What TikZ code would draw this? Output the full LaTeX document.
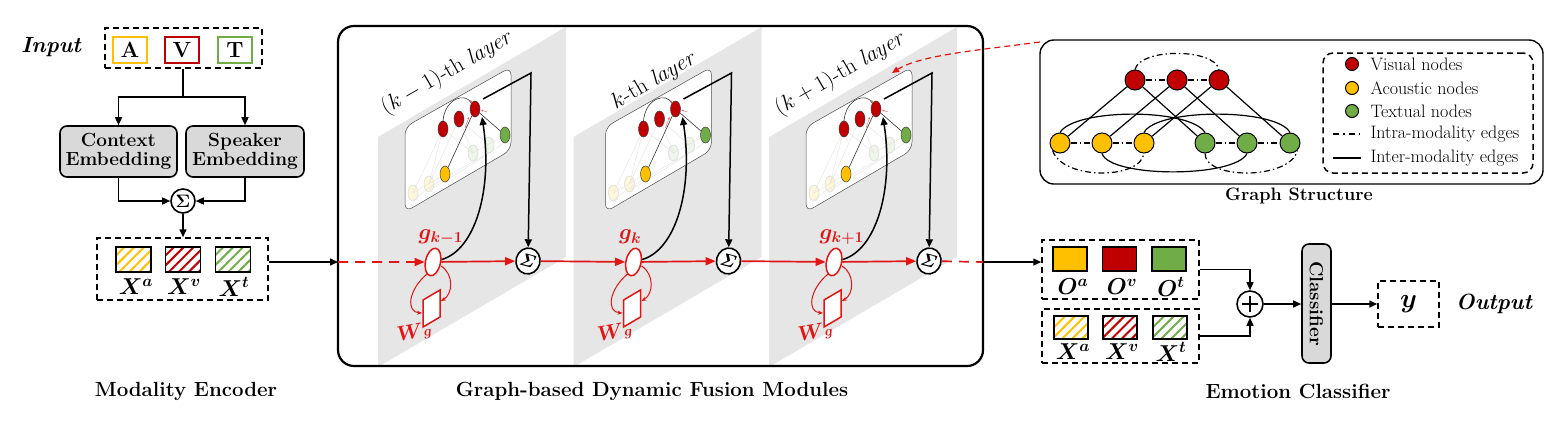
\RequirePackage{fix-cm}
\documentclass[tikz,border=0pt]{standalone}
\usepackage{amsmath}
\usetikzlibrary{arrows.meta,patterns.meta,shapes.geometric,calc}
\definecolor{cA}{HTML}{FFC000}
\definecolor{cV}{HTML}{C00000}
\definecolor{cT}{HTML}{70AD47}
\definecolor{boxgray}{HTML}{D9D9D9}
\definecolor{panelgray}{HTML}{E6E6E6}
\definecolor{flowred}{HTML}{E31414}
\newcommand\myfs[2]{\fontsize{#1}{#2}\selectfont}
\begin{document}
\begin{tikzpicture}[x=1pt,y=-1pt,
  >={Triangle[length=8pt,width=7pt]},
  blk/.style={line width=1.5pt},
  dashbox/.style={draw,line width=1.5pt,dash pattern=on 6pt off 4pt,inner sep=0pt},
  letterbox/.style={draw,line width=1.8pt,minimum width=34pt,minimum height=26pt,inner sep=0pt,font=\myfs{22}{22}\bfseries},
  graybox/.style={draw,line width=1.6pt,fill=boxgray,rounded corners=7pt,align=center,inner sep=0pt,font=\myfs{19}{19}\bfseries},
  hbox/.style={draw,line width=1.5pt,minimum width=35pt,minimum height=25pt,inner sep=0pt},
  hatchA/.style={hbox,pattern={Lines[angle=45,distance=7pt,line width=2pt]},pattern color=cA},
  hatchV/.style={hbox,pattern={Lines[angle=45,distance=7pt,line width=2pt]},pattern color=cV},
  hatchT/.style={hbox,pattern={Lines[angle=45,distance=7pt,line width=2pt]},pattern color=cT},
  obx/.style={draw,line width=1.5pt,minimum width=34pt,minimum height=24pt,inner sep=0pt},
  lbl/.style={font=\myfs{23}{23}},
  title/.style={font=\myfs{20.5}{22}\bfseries},
  flow/.style={draw=flowred,line width=1.7pt,-{Triangle[length=10pt,width=8pt]}},
  flowdash/.style={flow,dash pattern=on 10pt off 7pt},
  thinred/.style={draw=flowred,line width=1pt,-{Stealth[length=5pt,width=4pt]}},
  gnode/.style={ellipse,draw=black!75,line width=0.5pt,minimum width=10pt,minimum height=16pt,inner sep=0pt},
  fadeA/.style={gnode,draw=gray!30,fill=cA!14},
  fadeT/.style={gnode,draw=gray!30,fill=cT!12},
  gsn/.style={circle,draw,line width=1pt,minimum size=20pt,inner sep=0pt},
  dashdot/.style={line width=1.2pt,dash pattern=on 6pt off 3pt on 1.5pt off 3pt},
  inter/.style={line width=1.2pt},
  legtxt/.style={anchor=west,font=\myfs{18}{19}}
]
\useasboundingbox (0,0) rectangle (1563,421);

% ---------------- Modality encoder ----------------
\node[font=\myfs{22}{24}\bfseries\itshape] (input) at (51,47) {Input};
\node[dashbox,minimum width=157pt,minimum height=40pt] (avt) at (183.5,48) {};
\node[letterbox,draw=cA] (A) at (130,50) {A};
\node[letterbox,draw=cV] (V) at (182,50) {V};
\node[letterbox,draw=cT] (T) at (235,50) {T};
\node[graybox,minimum width=117pt,minimum height=51pt] (ctx) at (118.5,151.5) {Context\\Embedding};
\node[graybox,minimum width=118pt,minimum height=51pt] (spk) at (245,151.5) {Speaker\\Embedding};
\node[shape=circle,draw,line width=1.6pt,minimum size=24pt,inner sep=0pt,font=\myfs{18}{18}] (sig0) at (183,201) {$\boldsymbol{\Sigma}$};
\coordinate (split) at (183,97);
\draw[blk] (avt.south -| split) -- (split);
\draw[blk,->] (split) -| (ctx.north);
\draw[blk,->] (split) -| (spk.north);
\draw[blk,->] (ctx.south) |- (sig0.west);
\draw[blk,->] (spk.south) |- (sig0.east);
\node[dashbox,minimum width=171pt,minimum height=62pt] (xbox) at (182.5,269) {};
\draw[blk,->] (sig0.south) -- (sig0.south |- xbox.north);
\node[hatchA] (xa) at (133.5,259.5) {};
\node[hatchV] (xv) at (183,259.5) {};
\node[hatchT] (xt) at (233,259.5) {};
\node[lbl] (lxa) at (136,287) {$\boldsymbol{X^a}$};
\node[lbl] (lxv) at (184,287) {$\boldsymbol{X^v}$};
\node[lbl] (lxt) at (234,287) {$\boldsymbol{X^t}$};
\node[title] (t1) at (186,391) {Modality Encoder};

% ---------------- Fusion modules ----------------
\foreach \i in {0,1,2}{
  \pgfmathsetmacro\px{378+195.5*\i}
  \fill[panelgray] (\px,137) -- (\px+188,27) -- (\px+188,257) -- (\px,367) -- cycle;
}
\foreach \i/\gl in {0/{k-1},1/{k},2/{k+1}}{
  \pgfmathsetmacro\dx{200.5*\i}
  \begin{scope}[xshift=\dx pt]
    \draw[gray!60!black,line width=0.5pt,fill=white,rounded corners=8pt] (405,127) -- (511,67) -- (511,150) -- (405,212) -- cycle;
    \node[fadeA] (ya-\i) at (413,193) {};
    \node[fadeA] (yb-\i) at (429,184) {};
    \node[fadeT] (ta-\i) at (473,153) {};
    \node[fadeT] (tb-\i) at (489,145) {};
    \draw[gray!22,line width=0.4pt] (443,129) -- (413,193) (443,129) -- (473,153) (459,119) -- (429,184)
      (459,119) -- (489,145) (443,129) -- (429,184) (459,119) -- (473,153)
      (413,193) -- (445,174) (473,153) -- (505,135)
      (413,200) .. controls (440,178) and (470,165) .. (489,152)
      (429,190) .. controls (455,175) and (480,160) .. (505,142);
    \node[gnode,fill=cV] (ra-\i) at (443,129) {};
    \node[gnode,fill=cV] (rb-\i) at (459,119) {};
    \node[gnode,fill=cV] (rc-\i) at (475,109) {};
    \node[gnode,fill=cA] (yc-\i) at (445,174) {};
    \node[gnode,fill=cT] (tc-\i) at (505,135) {};
    \draw[gray!40!black,line width=0.6pt] (yc-\i) -- (rc-\i) (tc-\i) -- (rc-\i);
    \draw[gray!40!black,line width=0.6pt] (ra-\i.north) .. controls (445,98) and (466,92) .. (rc-\i.north west);
    \draw[flowred!70,line width=0.4pt,-{Stealth[length=2.5pt,width=2pt]}] (465,128) -- (469,117);
    \draw[flowred!70,line width=0.4pt,-{Stealth[length=2.5pt,width=2pt]}] (487,112) -- (481,110);
    \draw[flowred!70,line width=0.4pt,-{Stealth[length=2.5pt,width=2pt]}] (470,100) -- (472,103);
    \node[shape=ellipse,draw=flowred,line width=1.5pt,fill=white,minimum width=15pt,minimum height=28pt,inner sep=0pt,rotate=-12] (g-\i) at (433,262) {};
    \node[shape=ellipse,draw,line width=1.6pt,fill=white,minimum width=22pt,minimum height=26pt,inner sep=0pt,rotate=-15,font=\myfs{18}{18}] (s-\i) at (528,261) {$\boldsymbol{\mathit{\Sigma}}$};
    \draw[flowred,line width=1.5pt,fill=white] (423,300) -- (440,290) -- (440,317) -- (423,327) -- cycle;
    \draw[thinred] (427,274) .. controls (408,290) and (406,312) .. (422,313);
    \draw[thinred] (441,266) .. controls (454,274) and (453,294) .. (441,301);
    \node[text=flowred,font=\myfs{21}{21},rotate=10] (w-\i) at (410,332) {$\boldsymbol{W}$};
    \node[text=flowred,font=\myfs{14}{14},rotate=10] (wg-\i) at (428,334) {$\boldsymbol{g}$};
    \node[text=flowred,font=\myfs{22}{22},anchor=west] (gl-\i) at (415,237) {$\boldsymbol{g_{\gl}}$};
    \draw[blk,->] (483,99) -- (531,73) -- (s-\i);
    \draw[blk,->] (g-\i) .. controls (475,250) and (493,190) .. (482,117);
  \end{scope}
}
\node[draw,line width=2.2pt,rounded corners=16pt,minimum width=645pt,minimum height=340pt,inner sep=0pt] (big) at (660.5,196) {};
\coordinate (fin) at (338,262);
\coordinate (fout) at (983,262);
\draw[blk,->] (xbox.east |- fin) -- (fin);
\draw[flowdash] (fin) -- (g-0);
\draw[flow] (g-0) -- (s-0);
\draw[flow] (s-0) -- (g-1);
\draw[flow] (g-1) -- (s-1);
\draw[flow] (s-1) -- (g-2);
\draw[flow] (g-2) -- (s-2);
\draw[flowred,line width=1.7pt,dash pattern=on 10pt off 7pt] (s-2) -- (fout);
\node[rotate=30,font=\myfs{22.5}{22}] (l0) at (447,73) {$(k-1)$-th \textit{layer}};
\node[rotate=30,font=\myfs{22.5}{22}] (l1) at (654,81) {$k$-th \textit{layer}};
\node[rotate=30,font=\myfs{22.5}{22}] (l2) at (840,74) {$(k+1)$-th \textit{layer}};
\node[title] (t2) at (652,391) {Graph-based Dynamic Fusion Modules};

% ---------------- Graph structure ----------------
\node[draw,line width=1.4pt,rounded corners=14pt,minimum width=503pt,minimum height=144pt,inner sep=0pt] (gs) at (1291.5,112) {};
\coordinate (gsin) at (1040,42);
\draw[flowred,line width=1.2pt,dash pattern=on 6pt off 4pt,-{Triangle[length=7pt,width=6pt]}] (gsin) .. controls (980,50) and (920,55) .. (892,73);
\node[gsn,fill=cV] (r1) at (1135,80) {};
\node[gsn,fill=cV] (r2) at (1177,80) {};
\node[gsn,fill=cV] (r3) at (1219,80) {};
\node[gsn,fill=cA] (y1) at (1060,143) {};
\node[gsn,fill=cA] (y2) at (1102,143) {};
\node[gsn,fill=cA] (y3) at (1144,143) {};
\node[gsn,fill=cT] (g1) at (1205,143) {};
\node[gsn,fill=cT] (g2) at (1247,143) {};
\node[gsn,fill=cT] (g3) at (1290,143) {};
\draw[dashdot] (r1) -- (r2) (r2) -- (r3) (y1) -- (y2) (y2) -- (y3) (g1) -- (g2) (g2) -- (g3);
\draw[dashdot] (r1.north) .. controls (1140,48) and (1214,48) .. (r3.north);
\draw[dashdot] (y1.south west) .. controls (1062,180) and (1140,180) .. (y3.south);
\draw[dashdot] (g1.south) .. controls (1205,180) and (1290,180) .. (g3.south east);
\draw[inter] (r1) -- (y1) (r1) -- (g1) (r2) -- (y2) (r2) -- (g2) (r3) -- (y3) (r3) -- (g3);
\draw[inter] (y1.north) .. controls (1075,108) and (1190,108) .. (g1.north);
\draw[inter] (y3.north) .. controls (1157,108) and (1277,108) .. (g3.north);
\draw[inter] (y2.south) .. controls (1110,178) and (1235,178) .. (g2.south);
\node[dashbox,rounded corners=10pt,minimum width=210pt,minimum height=120pt] (leg) at (1428,113) {};
\node[gsn,fill=cV,minimum size=13pt] (lv) at (1352,64) {};
\node[gsn,fill=cA,minimum size=13pt] (la) at (1352,88) {};
\node[gsn,fill=cT,minimum size=13pt] (lt) at (1352,111) {};
\coordinate (ld1) at (1333,134); \coordinate (ld2) at (1361,134);
\coordinate (ls1) at (1333,158); \coordinate (ls2) at (1361,158);
\draw[line width=1.2pt,dash pattern=on 6pt off 4pt on 1.5pt off 4pt] (ld1) -- (ld2);
\draw[inter] (ls1) -- (ls2);
\node[legtxt] (tv) at (1367,64) {Visual nodes};
\node[legtxt] (ta) at (1367,88) {Acoustic nodes};
\node[legtxt] (tt) at (1367,111) {Textual nodes};
\node[legtxt] (td) at (1367,134) {Intra-modality edges};
\node[legtxt] (ts) at (1367,158) {Inter-modality edges};
\node[font=\myfs{18}{20}\bfseries] (t3) at (1299,196) {Graph Structure};

% ---------------- Emotion classifier ----------------
\node[dashbox,minimum width=157pt,minimum height=59pt] (obox) at (1120.5,269.5) {};
\draw[blk,->] (fout) -- (obox.west |- fout);
\node[obx,fill=cA] (oa) at (1070,259) {};
\node[obx,fill=cV] (ov) at (1119.5,259) {};
\node[obx,fill=cT] (ot) at (1169,259) {};
\node[lbl] (loa) at (1073,287) {$\boldsymbol{O^a}$};
\node[lbl] (lov) at (1122,287) {$\boldsymbol{O^v}$};
\node[lbl] (lot) at (1171,287) {$\boldsymbol{O^t}$};
\node[dashbox,minimum width=157pt,minimum height=54pt] (xbox2) at (1120.5,336) {};
\node[hatchA,minimum width=34pt,minimum height=23pt] (xa2) at (1071,327.5) {};
\node[hatchV,minimum width=34pt,minimum height=23pt] (xv2) at (1120,327.5) {};
\node[hatchT,minimum width=34pt,minimum height=23pt] (xt2) at (1170,327.5) {};
\node[lbl] (lxa2) at (1073,352) {$\boldsymbol{X^a}$};
\node[lbl] (lxv2) at (1122,352) {$\boldsymbol{X^v}$};
\node[lbl] (lxt2) at (1171,352) {$\boldsymbol{X^t}$};
\node[shape=circle,draw,line width=1.6pt,minimum size=26pt,inner sep=0pt] (op) at (1250,304) {};
\draw[line width=1.8pt] ($(op)+(-8,0)$) -- ($(op)+(8,0)$) ($(op)+(0,-8)$) -- ($(op)+(0,8)$);
\draw[blk,->] (obox.east) -| (op.north);
\draw[blk,->] (xbox2.east) -| (op.south);
\node[graybox,minimum width=29pt,minimum height=119pt] (cls) at (1316.5,303.5) {};
\node[rotate=-90,font=\myfs{19}{19}\bfseries] (clst) at (cls) {Classifier};
\draw[blk,->] (op.east) -- (cls.west |- op);
\node[dashbox,minimum width=61pt,minimum height=46pt,font=\myfs{27}{27}] (yb) at (1408.5,304) {$\boldsymbol{y}$};
\draw[blk,->] (cls.east |- yb) -- (yb.west);
\node[font=\myfs{22}{22}\bfseries\itshape] (out) at (1494,304) {Output};
\node[title] (t4) at (1298,391) {Emotion Classifier};
\end{tikzpicture}
\end{document}
